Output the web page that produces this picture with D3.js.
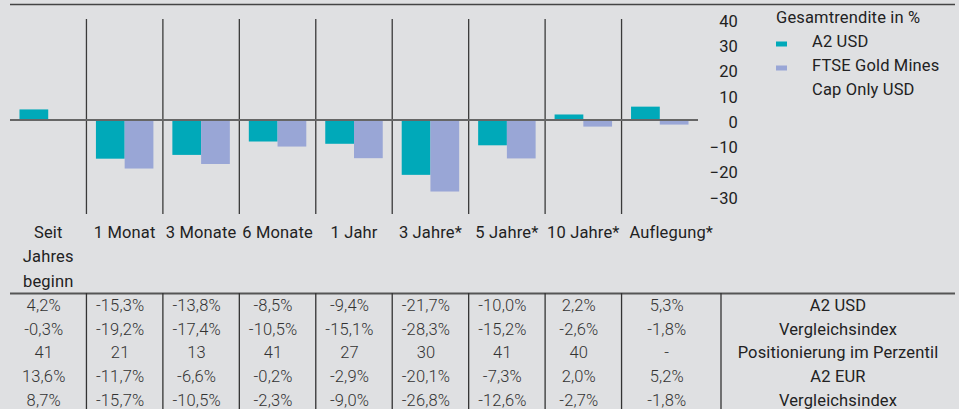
<!DOCTYPE html>
<html>
<head>
<meta charset="utf-8">
<script src="https://cdn.jsdelivr.net/npm/d3@7"></script>
<style>
  body { margin: 0; background: #dfe0e2; }
  svg { display: block; font-family: Roboto, "Noto Sans", sans-serif; }
  text { fill: #222; letter-spacing: 0.15px; }
  .num text, text.num { fill: #333; }
</style>
</head>
<body>
<div id="chart"></div>
<script>
// categories and series
var categories = ["Seit Jahres beginn", "1 Monat", "3 Monate", "6 Monate", "1 Jahr", "3 Jahre*", "5 Jahre*", "10 Jahre*", "Auflegung*"];
var catLines = [["Seit", "Jahres", "beginn"], ["1 Monat"], ["3 Monate"], ["6 Monate"], ["1 Jahr"], ["3 Jahre*"], ["5 Jahre*"], ["10 Jahre*"], ["Auflegung*"]];
var seriesNames = ["A2 USD", "FTSE Gold Mines Cap Only USD"];
var a2usd = [4.2, -15.3, -13.8, -8.5, -9.4, -21.7, -10.0, 2.2, 5.3];
var ftse = [-0.3, -19.2, -17.4, -10.5, -15.1, -28.3, -15.2, -2.6, -1.8];
var yTicks = [40, 30, 20, 10, 0, -10, -20, -30];

// table below the chart
var rowLabels = ["A2 USD", "Vergleichsindex", "Positionierung im Perzentil", "A2 EUR", "Vergleichsindex"];
var rowA2usd = ["4,2%", "-15,3%", "-13,8%", "-8,5%", "-9,4%", "-21,7%", "-10,0%", "2,2%", "5,3%"];
var rowIdx1 = ["-0,3%", "-19,2%", "-17,4%", "-10,5%", "-15,1%", "-28,3%", "-15,2%", "-2,6%", "-1,8%"];
var rowPerz = ["41", "21", "13", "41", "27", "30", "41", "40", "-"];
var rowA2eur = ["13,6%", "-11,7%", "-6,6%", "-0,2%", "-2,9%", "-20,1%", "-7,3%", "2,0%", "5,2%"];
var rowIdx2 = ["8,7%", "-15,7%", "-10,5%", "-2,3%", "-9,0%", "-26,8%", "-12,6%", "-2,7%", "-1,8%"];
var tableRows = [rowA2usd, rowIdx1, rowPerz, rowA2eur, rowIdx2];

var colors = ["#00a9b9", "#99a6d6"];
var W = 959, H = 409;
var fs = "16.5px";

var svg = d3.select("#chart").append("svg")
    .attr("width", W)
    .attr("height", H);

// scales
var x0 = d3.scaleBand()
    .domain(categories)
    .range([10, 698]);
var x1 = d3.scaleBand()
    .domain(seriesNames)
    .range([0, x0.bandwidth()])
    .paddingOuter(0.33);
var y = d3.scaleLinear()
    .domain([-37.2, 40])
    .range([214, 19]);

// top rule
svg.append("line")
    .attr("x1", 10).attr("x2", 955)
    .attr("y1", 4.5).attr("y2", 4.5)
    .attr("stroke", "#444").attr("stroke-width", 1.5);

// vertical separators between categories
svg.selectAll(".sep")
    .data(categories.slice(1)).enter()
    .append("line")
    .attr("class", "sep")
    .attr("x1", function (d) { return x0(d); })
    .attr("x2", function (d) { return x0(d); })
    .attr("y1", y(40))
    .attr("y2", y(-37.2))
    .attr("stroke", "#3a3a3a")
    .attr("stroke-width", 1.3);

// bars
var data = categories.map(function (c, i) {
    return [{ cat: c, s: seriesNames[0], v: a2usd[i] }, { cat: c, s: seriesNames[1], v: ftse[i] }];
});
svg.selectAll(".grp")
    .data(data).enter()
    .append("g")
    .attr("transform", function (d) { return "translate(" + x0(d[0].cat) + ",0)"; })
    .selectAll("rect")
    .data(function (d) { return d; }).enter()
    .append("rect")
    .attr("x", function (d) { return x1(d.s); })
    .attr("y", function (d) { return y(Math.max(0, d.v)); })
    .attr("width", x1.bandwidth())
    .attr("height", function (d) { return Math.abs(y(d.v) - y(0)); })
    .attr("fill", function (d, i) { return colors[i]; });

// zero line
svg.append("line")
    .attr("x1", 10).attr("x2", 698)
    .attr("y1", y(0)).attr("y2", y(0))
    .attr("stroke", "#666").attr("stroke-width", 2);

// y axis on the right
var yAxis = d3.axisRight(y).tickValues(yTicks).tickSize(0).tickPadding(0);
var ya = svg.append("g")
    .attr("transform", "translate(738,2)")
    .call(yAxis);
ya.select(".domain").remove();
ya.selectAll("text")
    .attr("text-anchor", "end")
    .attr("x", 0)
    .style("font-size", fs)
    .style("font-family", "Roboto, sans-serif")
    .attr("fill", "#222");

// legend
var lg = svg.append("g").attr("transform", "translate(776,0)");
lg.append("text").attr("x", 0).attr("y", 17).attr("dy", "0.35em")
    .style("font-size", fs).text("Gesamtrendite in %");
var legendRows = [["A2 USD"], ["FTSE Gold Mines", "Cap Only USD"]];
legendRows.forEach(function (lines, i) {
    var yy = 41 + i * 24;
    lg.append("rect").attr("x", 0).attr("y", yy + 0.5).attr("width", 11).attr("height", 5)
        .attr("fill", colors[i]);
    lines.forEach(function (t, j) {
        lg.append("text").attr("x", 36).attr("y", yy + j * 24.5).attr("dy", "0.35em")
            .style("font-size", fs).text(t);
    });
});

// table columns follow the chart bands, last column is wider
var colEdges = categories.map(function (c) { return x0(c); });
colEdges.push(721);
var colCenter = function (i) { return (colEdges[i] + colEdges[i + 1]) / 2; };

// category labels
catLines.forEach(function (lines, i) {
    lines.forEach(function (t, j) {
        svg.append("text")
            .attr("x", colCenter(i))
            .attr("y", 232 + j * 24.5)
            .attr("dy", "0.35em")
            .attr("text-anchor", "middle")
            .style("font-size", fs)
            .text(t);
    });
});

// table rule + column lines
svg.append("line")
    .attr("x1", 10).attr("x2", 955)
    .attr("y1", 293.5).attr("y2", 293.5)
    .attr("stroke", "#555").attr("stroke-width", 2);
svg.selectAll(".tsep")
    .data(colEdges.slice(1)).enter()
    .append("line")
    .attr("x1", function (d) { return d; })
    .attr("x2", function (d) { return d; })
    .attr("y1", 293)
    .attr("y2", H)
    .attr("stroke", "#333")
    .attr("stroke-width", 1.3);

// table cells
tableRows.forEach(function (row, r) {
    var yy = 305 + r * 23.75;
    row.forEach(function (t, i) {
        svg.append("text")
            .attr("class", "num")
            .attr("x", colCenter(i) - 4.5)
            .attr("y", yy)
            .attr("dy", "0.35em")
            .attr("text-anchor", "middle")
            .style("font-size", fs)
            .style("font-weight", 300)
            .text(t);
    });
    svg.append("text")
        .attr("x", 838)
        .attr("y", yy)
        .attr("dy", "0.35em")
        .attr("text-anchor", "middle")
        .style("font-size", fs)
        .text(rowLabels[r]);
});
</script>
</body>
</html>
